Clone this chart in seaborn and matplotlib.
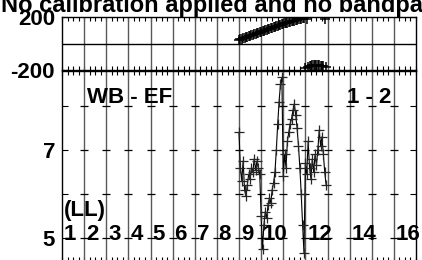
import numpy as np
import pandas as pd
import seaborn as sns
import matplotlib.pyplot as plt

# per-IF spectra, 16 channels each (IFs 9-12 carry data)
ifs = [9, 10, 11, 12]
amp_if9 = [7.4, 6.6, 6.3, 6.75, 6.1, 5.95, 6.2, 6.45, 6.35, 6.6, 6.5, 6.8, 6.55, 6.75, 6.6, 6.45]
amp_if10 = [5.5, 4.75, 5.3, 5.6, 5.45, 5.75, 5.9, 5.8, 6.1, 6.25, 6.5, 7.0, 7.6, 8.1, 8.5, 8.65]
amp_if11 = [6.4, 6.9, 6.6, 7.2, 7.4, 7.6, 7.7, 7.9, 8.05, 7.8, 7.5, 7.1, 6.6, 6.0, 5.3, 4.65]
amp_if12 = [6.7, 6.45, 7.2, 6.6, 6.35, 6.8, 6.5, 6.9, 6.65, 7.0, 7.45, 7.1, 7.3, 6.9, 6.5, 6.2]

pha_if9 = [28, 32, 36, 40, 44, 48, 50, 55, 58, 62, 66, 70, 73, 77, 81, 85]
pha_if10 = [88, 92, 96, 100, 104, 108, 112, 116, 120, 123, 127, 131, 135, 138, 141, 145]
pha_if11 = [148, 152, 155, 158, 161, 164, 167, 170, 173, 176, 179, 182, 185, 188, 191, 194]
pha_if12 = [-178, 182, -172, -166, -163, -160, -158, -157, -157, -158, -160, -163, -166, -170, 183, -175]

if_labels = ['1', '2', '3', '4', '5', '6', '7', '8', '9', '10', '12', '14', '16']
if_label_pos = [1, 2, 3, 4, 5, 6, 7, 8, 9, 10, 12, 14, 16]

amp = amp_if9 + amp_if10 + amp_if11 + amp_if12
pha = pha_if9 + pha_if10 + pha_if11 + pha_if12
nchan = 16
chan = [i + c / nchan for i in ifs for c in range(nchan)]
df = pd.DataFrame({'chan': chan, 'amp': amp, 'phase': pha})

sns.set_style('ticks')
plt.rcParams['font.family'] = ['Liberation Sans', 'DejaVu Sans']
plt.rcParams['font.weight'] = 'bold'
plt.rcParams['text.color'] = 'k'
plt.rcParams['xtick.color'] = 'k'
plt.rcParams['ytick.color'] = 'k'
plt.rcParams['xtick.labelcolor'] = 'k'
plt.rcParams['ytick.labelcolor'] = 'k'

fig = plt.figure(figsize=(4.22, 2.60), dpi=100)
fig.patch.set_facecolor('white')
W, H = 422, 260
x0, x1 = 62 / W, 416 / W
ax1 = fig.add_axes([x0, 1 - 70.5 / H, x1 - x0, (70.5 - 17) / H])
ax2 = fig.add_axes([x0, -1 / H, x1 - x0, (261 - 70.5) / H])

fig.text(1 / W, 1 - 12 / H, "No calibration applied and no bandpass applied",
         fontsize=17, fontweight='bold', ha='left', va='baseline', color='k')

grid_x = np.arange(1, 18)
for ax in (ax1, ax2):
    ax.set_xlim(1, 17)
    ax.set_xticks(grid_x)
    ax.set_xticks(np.arange(1, 17.01, 0.25), minor=True)
    ax.set_xticklabels([])
    for gx in grid_x[1:-1]:
        ax.axvline(gx, color='0.35', lw=1.0, zorder=1)
    ax.tick_params(axis='x', which='both', direction='in', top=True, bottom=True,
                   length=3, width=0.8, color='k')
    ax.tick_params(axis='y', direction='in', left=True, right=True, length=4,
                   width=0.8, labelsize=16, pad=5, labelcolor='k')
    for s in ax.spines.values():
        s.set_linewidth(1.0)
        s.set_color('k')

# phase panel
ax1.set_ylim(-200, 200)
ax1.set_yticks([-200, 200])
ax1.set_yticklabels(['-200', '200'], fontweight='bold')
ax1.axhline(0, color='k', lw=1.0, zorder=1)
sns.lineplot(data=df, x='chan', y='phase', ax=ax1, sort=False, linestyle='none',
             marker='+', markersize=7, markeredgewidth=1.1, color='k',
             markeredgecolor='k', zorder=3)
ax1.set_xlabel('')
ax1.set_ylabel('')

# amplitude panel
amp_ticks = [5, 6, 7, 8]
ax2.set_ylim(4.477, 8.807)
ax2.set_yticks(amp_ticks)
ax2.set_yticklabels(['5', '', '7', ''], fontweight='bold')
gx, gy = np.meshgrid(grid_x[1:-1], amp_ticks)
ax2.plot(gx.ravel(), gy.ravel(), linestyle='none', marker='_', markersize=6,
         markeredgewidth=0.9, color='k', zorder=2)
sns.lineplot(data=df, x='chan', y='amp', ax=ax2, sort=False, lw=0.8,
             marker='+', markersize=7.5, markeredgewidth=0.9, color='k',
             markeredgecolor='0.15', zorder=3)
ax2.set_xlabel('')
ax2.set_ylabel('')

ax2.text(2.13, 8.07, 'WB - EF', fontsize=16, fontweight='bold', va='baseline', ha='left')
ax2.text(13.88, 8.07, '1 - 2', fontsize=16, fontweight='bold', va='baseline', ha='left')
ax2.text(1.1, 5.5, '(LL)', fontsize=16, fontweight='bold', va='baseline', ha='left')
for lab, pos in zip(if_labels, if_label_pos):
    ax2.text(pos + 0.08, 4.955, lab, fontsize=16, fontweight='bold',
             va='baseline', ha='left')

fig.savefig('out.png', dpi=100, facecolor='white')
